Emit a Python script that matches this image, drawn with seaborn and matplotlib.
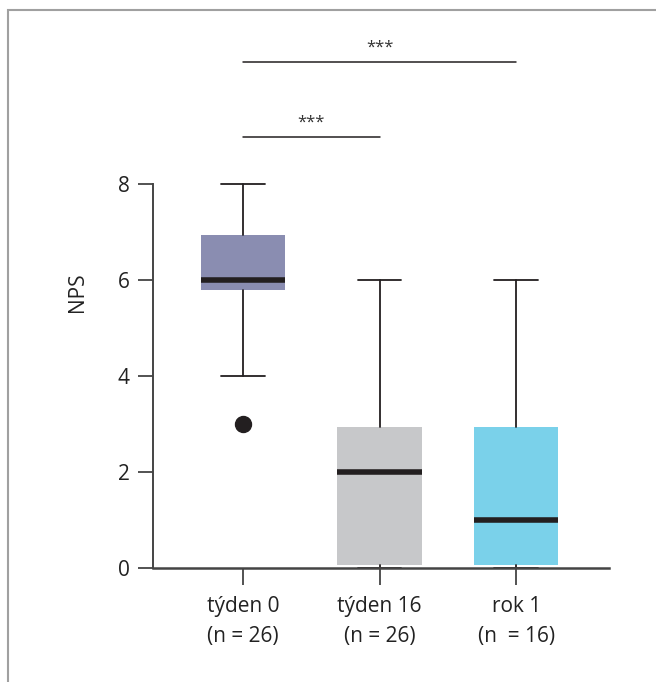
import matplotlib
matplotlib.use("Agg")
import matplotlib.pyplot as plt
from matplotlib.patches import Rectangle
import seaborn as sns

# box statistics
groups = ["týden 0\n(n = 26)", "týden 16\n(n = 26)", "rok 1\n(n  = 16)"]
q1 = [5.79, 0.06, 0.06]
median = [6, 2, 1]
q3 = [6.94, 2.94, 2.94]
whis_lo = [4, 0, 0]
whis_hi = [8, 6, 6]
fliers = [[3], [], []]
colors = ["#8a8db1", "#c7c8ca", "#7ad1ea"]

# significance brackets: (from, to, label)
sig_pairs = [(0, 1, "***"), (0, 2, "***")]
sig_y = [8.98, 10.54]

sns.set_theme(style="ticks")
plt.rcParams["font.family"] = ["Open Sans", "DejaVu Sans"]

fig = plt.figure(figsize=(6.56, 6.82), dpi=100)
ax = fig.add_axes([153 / 656, 1 - 568 / 682, 456 / 656, 552 / 682])

stats = []
for i in range(len(groups)):
    stats.append({"q1": q1[i], "med": median[i], "q3": q3[i],
                  "whislo": whis_lo[i], "whishi": whis_hi[i],
                  "fliers": fliers[i], "label": groups[i]})

dark = "#231f20"
bp = ax.bxp(stats, positions=range(len(groups)), widths=0.62, capwidths=0.32,
            patch_artist=True,
            boxprops=dict(edgecolor="none"),
            medianprops=dict(color=dark, linewidth=4, solid_capstyle="butt"),
            whiskerprops=dict(color=dark, linewidth=1.3),
            capprops=dict(color=dark, linewidth=1.3),
            flierprops=dict(marker="o", markersize=11.5, markerfacecolor=dark,
                            markeredgecolor=dark))
for patch, c in zip(bp["boxes"], colors):
    patch.set_facecolor(c)
for art in bp["caps"] + bp["whiskers"]:
    art.set_clip_on(False)

for (a, b, lab), y in zip(sig_pairs, sig_y):
    ax.plot([a, b], [y, y], color=dark, lw=1.1, clip_on=False)
    ax.text((a + b) / 2, y + 0.14, lab, ha="center", va="bottom",
            fontsize=12, color="#333333")

ax.set_xlim(-0.66, 2.68)
ax.set_ylim(0, 11.5)
ax.set_yticks([0, 2, 4, 6, 8])
ax.set_xticks(range(len(groups)))
ax.set_xticklabels(groups, linespacing=1.6)
ax.set_ylabel("NPS", fontsize=15, color="#222222", labelpad=21)

sns.despine(ax=ax)
ax.spines["left"].set_bounds(0, 8)
for s in ["left", "bottom"]:
    ax.spines[s].set_color("#444444")
    ax.spines[s].set_linewidth(1.4)
ax.spines["bottom"].set_linewidth(1.8)
ax.tick_params(axis="y", length=11, width=1.3, color="#444444",
               labelsize=15, labelcolor="#222222", pad=6)
ax.tick_params(axis="x", length=12, width=1.3, color="#444444",
               labelsize=15, labelcolor="#222222", pad=8)

# light frame around the figure
fig.patches.append(Rectangle((8 / 656, -0.1), 1.2, 1.1 - 10 / 682,
                             transform=fig.transFigure, fill=False,
                             edgecolor="#a0a0a0", linewidth=1.5))

fig.savefig("out.png", dpi=100)
